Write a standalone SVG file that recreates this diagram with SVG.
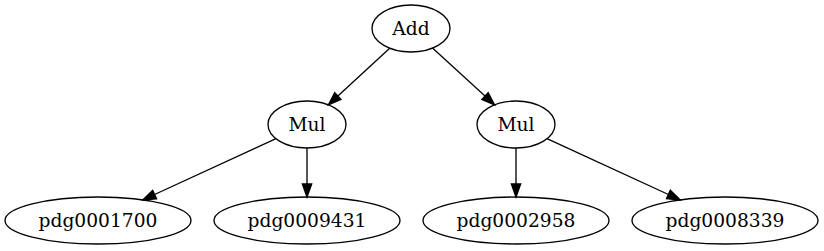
<svg xmlns="http://www.w3.org/2000/svg" width="824" height="251" viewBox="0 0 824 251">
<style>
.n ellipse{fill:none;stroke:#000;stroke-width:1.33}
.n text{font-family:"DejaVu Serif",serif;font-size:18.67px;text-anchor:middle;fill:#000}
.e line{stroke:#000;stroke-width:1.33;marker-end:url(#ah)}
</style>
<defs>
<marker id="ah" markerUnits="userSpaceOnUse" markerWidth="14" markerHeight="10" refX="0" refY="4.67" orient="auto" overflow="visible">
<path d="M0,0 L13,4.67 L0,9.33 Z" fill="#000" stroke="#000" stroke-width="1.33"/>
</marker>
</defs>
<rect width="824" height="251" fill="#fff"/>
<g class="e" id="edges">
<line x1="389.7" y1="48.2" x2="337.9" y2="96.0"/>
<line x1="432.5" y1="48.1" x2="485.0" y2="96.1"/>
<line x1="276.0" y1="138.7" x2="154.6" y2="194.5"/>
<line x1="307" y1="148" x2="307" y2="184"/>
<line x1="516" y1="148" x2="516" y2="184"/>
<line x1="547.0" y1="138.7" x2="668.4" y2="194.5"/>
</g>
<g class="n" id="add"><ellipse cx="411" cy="28.5" rx="39" ry="23.5"/><text x="411" y="34.7">Add</text></g>
<g class="n" id="mul1"><ellipse cx="307" cy="124.5" rx="39" ry="23.5"/><text x="307" y="130.7">Mul</text></g>
<g class="n" id="mul2"><ellipse cx="516" cy="124.5" rx="39" ry="23.5"/><text x="516" y="130.7">Mul</text></g>
<g class="n" id="pdg0001700"><ellipse cx="98" cy="220.5" rx="93" ry="23.5"/><text x="98" y="226.7">pdg0001700</text></g>
<g class="n" id="pdg0009431"><ellipse cx="307" cy="220.5" rx="93" ry="23.5"/><text x="307" y="226.7">pdg0009431</text></g>
<g class="n" id="pdg0002958"><ellipse cx="516" cy="220.5" rx="93" ry="23.5"/><text x="516" y="226.7">pdg0002958</text></g>
<g class="n" id="pdg0008339"><ellipse cx="725" cy="220.5" rx="93" ry="23.5"/><text x="725" y="226.7">pdg0008339</text></g>
</svg>
